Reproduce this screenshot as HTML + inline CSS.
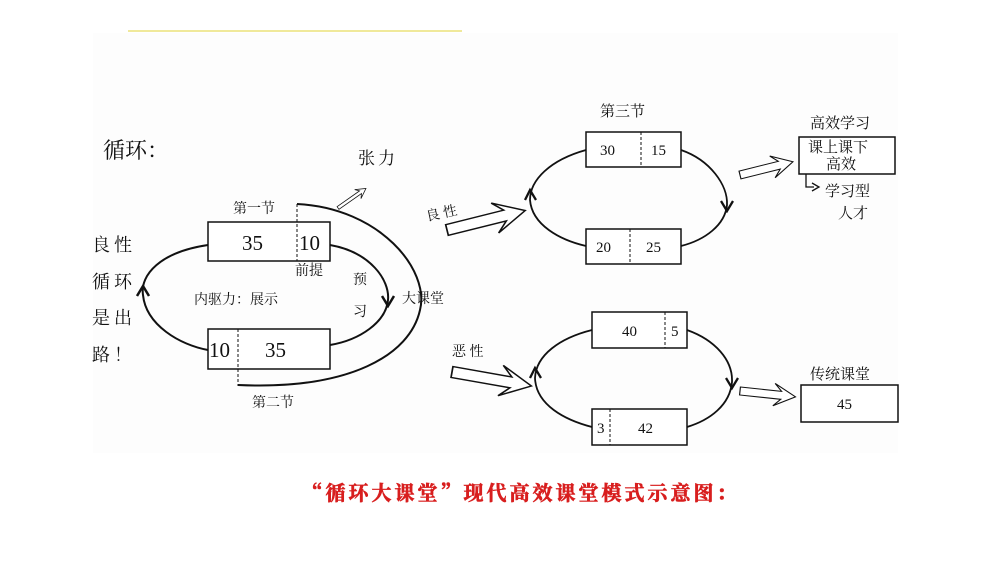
<!DOCTYPE html>
<html><head><meta charset="utf-8"><style>
html,body{margin:0;padding:0;background:#fff;}
svg{display:block;}
text{font-family:"Liberation Serif","Noto Serif CJK SC",serif;fill:#111;}
.c{font-family:"Noto Serif CJK SC",serif;}
</style></head><body>
<svg width="1000" height="562" viewBox="0 0 1000 562" xmlns="http://www.w3.org/2000/svg">
<rect x="0" y="0" width="1000" height="562" fill="#fff"/>
<rect x="93" y="33" width="805" height="420" fill="#fdfdfd"/>
<line x1="128" y1="31" x2="462" y2="31" stroke="#ece27a" stroke-width="1.5"/>
<defs>
<polygon id="ha" points="0,-3 50,-3 44,-10 62,0 44,10 50,3 0,3" fill="#fff" stroke="#111" stroke-width="1.4"/>
<polygon id="hb" points="0,-5 46,-5 38,-14 62,0 38,14 46,5 0,5" fill="#fff" stroke="#111" stroke-width="1.3"/>
</defs>
<g fill="none" stroke="#111" stroke-width="2">
<path d="M208,245 C160,252 140,275 143,295 C146,325 180,345 208,350"/>
<path d="M330,245 C370,252 390,280 388,300 C386,322 360,340 330,345"/>
<path d="M297,204 C380,208 430,270 420,310 C410,355 350,390 238,385"/>
</g>
<g fill="none" stroke="#111" stroke-width="2.5">
<path d="M137,296 L143,286 L149,296"/>
<path d="M382,296 L388,306 L394,296"/>
</g>
<g stroke="#111" stroke-width="1.5" fill="#fff">
<rect x="208" y="222" width="122" height="39"/>
<rect x="208" y="329" width="122" height="40"/>
</g>
<g stroke="#111" stroke-width="1" stroke-dasharray="3,2">
<line x1="297" y1="204" x2="297" y2="261"/>
<line x1="238" y1="329" x2="238" y2="386"/>
</g>
<g font-size="21">
<text x="242" y="250">35</text><text x="299" y="250">10</text>
<text x="209" y="357">10</text><text x="265" y="357">35</text>
</g>
<g font-size="14" class="c">
<text x="233" y="213">第一节</text>
<text x="295" y="275">前提</text>
<text x="353" y="284">预</text><text x="353" y="316">习</text>
<text x="402" y="303">大课堂</text>
<text x="194" y="304">内驱力：展示</text>
<text x="252" y="407">第二节</text>
</g>
<text x="358" y="164" font-size="17" class="c" letter-spacing="3">张力</text>
<use href="#ha" transform="translate(338,208) rotate(-35) scale(0.55)"/>
<text x="103" y="158" font-size="22" class="c">循环：</text>
<g font-size="18" class="c" letter-spacing="4">
<text x="92" y="251">良性</text><text x="92" y="288">循环</text>
<text x="92" y="324">是出</text><text x="92" y="361">路！</text>
</g>
<g fill="none" stroke="#111" stroke-width="1.8">
<path d="M586,150 C550,160 530,180 530,200 C532,225 560,240 586,246"/>
<path d="M681,150 C710,160 728,185 727,205 C725,225 705,240 681,246"/>
<path d="M592,330 C560,338 536,355 535,378 C536,405 565,420 592,427"/>
<path d="M687,330 C715,340 733,360 732,382 C730,405 710,420 687,427"/>
</g>
<g fill="none" stroke="#111" stroke-width="2.3">
<path d="M525,200 L530,190 L536,200"/>
<path d="M721,201 L727,211 L733,201"/>
<path d="M530,378 L535,368 L541,378"/>
<path d="M726,378 L732,388 L738,378"/>
</g>
<g stroke="#111" stroke-width="1.5" fill="#fff">
<rect x="586" y="132" width="95" height="35"/>
<rect x="586" y="229" width="95" height="35"/>
<rect x="592" y="312" width="95" height="36"/>
<rect x="592" y="409" width="95" height="36"/>
<rect x="799" y="137" width="96" height="37"/>
<rect x="801" y="385" width="97" height="37"/>
</g>
<g stroke="#111" stroke-width="1" stroke-dasharray="3,2">
<line x1="641" y1="132" x2="641" y2="167"/>
<line x1="630" y1="229" x2="630" y2="264"/>
<line x1="665" y1="312" x2="665" y2="348"/>
<line x1="610" y1="409" x2="610" y2="445"/>
</g>
<g font-size="15">
<text x="600" y="155">30</text><text x="651" y="155">15</text>
<text x="596" y="252">20</text><text x="646" y="252">25</text>
<text x="622" y="336">40</text><text x="671" y="336">5</text>
<text x="597" y="433">3</text><text x="638" y="433">42</text>
<text x="837" y="409">45</text>
</g>
<g font-size="15" class="c">
<text x="600" y="116">第三节</text>
<text x="810" y="128">高效学习</text>
<text x="808" y="152">课上课下</text>
<text x="826" y="169">高效</text>
<text x="825" y="196">学习型</text>
<text x="838" y="218">人才</text>
<text x="810" y="379">传统课堂</text>
</g>
<g font-size="14" class="c">
<text x="427" y="221" transform="rotate(-12 427 221)">良 性</text>
<text x="452" y="356">恶 性</text>
</g>
<use href="#hb" transform="translate(447,230) rotate(-14) scale(1.3,1.1)"/>
<use href="#hb" transform="translate(452,372) rotate(10) scale(1.3,1.1)"/>
<use href="#hb" transform="translate(740,175) rotate(-14) scale(0.88,0.8)"/>
<use href="#hb" transform="translate(740,391) rotate(6) scale(0.9,0.8)"/>
<path d="M806,174 L806,187 L814,187" fill="none" stroke="#111" stroke-width="1.3"/>
<path d="M812,183 L819,187 L812,191" fill="none" stroke="#111" stroke-width="1.3"/>
<text x="521" y="500" font-size="20" font-weight="bold" text-anchor="middle" class="c" letter-spacing="3" stroke="#d81e1e" stroke-width="0.6" style="fill:#d81e1e">“循环大课堂”现代高效课堂模式示意图：</text>
</svg>
</body></html>
